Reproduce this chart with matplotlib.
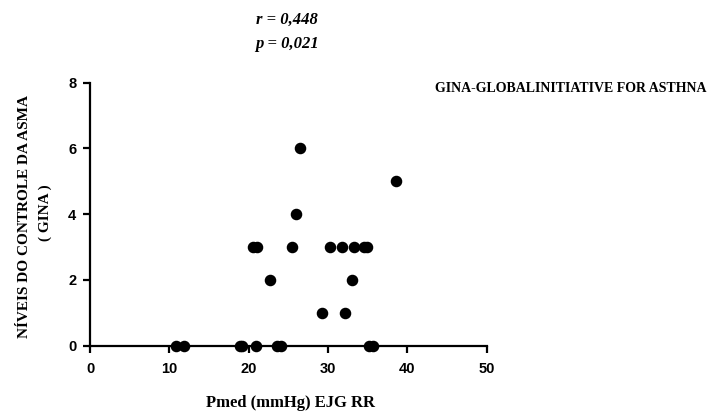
import matplotlib
matplotlib.use("Agg")
import matplotlib.pyplot as plt

# Data
pmed = [10.8, 11.9, 18.9, 19.2, 20.9, 23.6, 24.1, 35.1, 35.7,
        29.2, 32.1,
        22.7, 33.0,
        20.6, 21.1, 25.5, 30.2, 31.8, 33.3, 34.5, 34.9,
        26.0,
        38.6,
        26.5]
gina = [0, 0, 0, 0, 0, 0, 0, 0, 0,
        1, 1,
        2, 2,
        3, 3, 3, 3, 3, 3, 3, 3,
        4,
        5,
        6]
xticks = [0, 10, 20, 30, 40, 50]
yticks = [0, 2, 4, 6, 8]

fig = plt.figure(figsize=(7.19, 4.11), dpi=100)
ax = fig.add_axes([0.1252, 0.159, 0.5518, 0.640])

ax.plot(pmed, gina, 'o', color='black', markersize=7.3, clip_on=False, zorder=3)
ax.set_xlim(0, 50)
ax.set_ylim(0, 8)
ax.set_xticks(xticks)
ax.set_yticks(yticks)
for s in ['top', 'right']:
    ax.spines[s].set_visible(False)
for s in ['left', 'bottom']:
    ax.spines[s].set_linewidth(1.6)
ax.tick_params(direction='out', length=5, width=1.6)
ax.tick_params(axis='x', pad=7)
ax.tick_params(axis='y', pad=5)
for lab in ax.get_xticklabels() + ax.get_yticklabels():
    lab.set_fontfamily('Liberation Sans')
    lab.set_fontweight('bold')
    lab.set_fontsize(10.5)

serif = 'Liberation Serif'
fig.text(291 / 719, 1 - 403 / 411, 'Pmed (mmHg) EJG RR', family=serif,
         weight='bold', fontsize=12, ha='center', va='center')
fig.text(25 / 719, 1 - 216 / 411, 'NÍVEIS DO CONTROLE DA ASMA', family=serif,
         weight='bold', fontsize=11, rotation=90, ha='center', va='center')
fig.text(45 / 719, 1 - 213 / 411, '( GINA )', family=serif,
         weight='bold', fontsize=11, rotation=90, ha='center', va='center')
fig.text(287 / 719, 1 - 20 / 411, 'r = 0,448', family=serif, weight='bold',
         style='italic', fontsize=12, ha='center', va='center')
fig.text(287 / 719, 1 - 44 / 411, 'p = 0,021', family=serif, weight='bold',
         style='italic', fontsize=12, ha='center', va='center')
fig.text(435 / 719, 1 - 88 / 411, 'GINA-GLOBALINITIATIVE FOR ASTHNA', family=serif,
         weight='bold', fontsize=10, ha='left', va='center')

fig.savefig('out.png', dpi=100)
